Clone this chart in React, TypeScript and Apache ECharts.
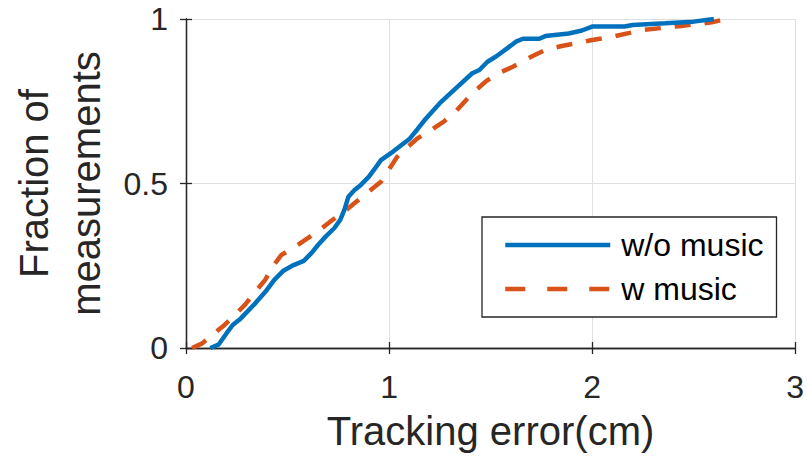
import React, { useEffect, useRef } from "react";
import * as echarts from "echarts";

const xTicks = [0, 1, 2, 3];
const yTicks = [0, 0.5, 1];
const seriesNames = ["w/o music", "w music"];

const withoutMusic: [number, number][] = [
  [0.12, 0], [0.16, 0.01], [0.2, 0.045], [0.23, 0.07], [0.27, 0.09], [0.34, 0.135],
  [0.39, 0.17], [0.435, 0.207], [0.48, 0.235], [0.53, 0.252], [0.58, 0.265], [0.62, 0.29],
  [0.65, 0.313], [0.69, 0.34], [0.73, 0.364], [0.76, 0.39], [0.78, 0.42], [0.8, 0.46],
  [0.83, 0.48], [0.86, 0.495], [0.9, 0.52], [0.93, 0.545], [0.96, 0.571], [1.02, 0.597],
  [1.1, 0.635], [1.14, 0.665], [1.18, 0.696], [1.25, 0.744], [1.33, 0.79], [1.41, 0.835],
  [1.445, 0.845], [1.485, 0.87], [1.527, 0.886], [1.58, 0.91], [1.625, 0.931], [1.66, 0.94],
  [1.74, 0.94], [1.77, 0.948], [1.885, 0.956], [1.95, 0.965], [2.0, 0.977], [2.16, 0.977],
  [2.2, 0.982], [2.36, 0.987], [2.5, 0.992], [2.6, 1.0],
];

const withMusic: [number, number][] = [
  [0.03, 0], [0.08, 0.014], [0.13, 0.04], [0.19, 0.07], [0.24, 0.1], [0.29, 0.131],
  [0.34, 0.17], [0.39, 0.207], [0.43, 0.25], [0.47, 0.283], [0.53, 0.305], [0.6, 0.334],
  [0.66, 0.36], [0.71, 0.384], [0.78, 0.415], [0.84, 0.445], [0.9, 0.475], [0.96, 0.505],
  [1.04, 0.581], [1.09, 0.61], [1.14, 0.637], [1.2, 0.66], [1.27, 0.688], [1.33, 0.72],
  [1.38, 0.754], [1.43, 0.785], [1.48, 0.812], [1.55, 0.838], [1.61, 0.855], [1.7, 0.885],
  [1.77, 0.906], [1.85, 0.918], [1.92, 0.926], [2.0, 0.936], [2.1, 0.946], [2.18, 0.957],
  [2.26, 0.967], [2.35, 0.973], [2.44, 0.979], [2.52, 0.985], [2.59, 0.99], [2.66, 1.0],
];

const FONT = "'Liberation Sans', Arial, Helvetica, sans-serif";
const AXIS_COLOR = "#262626";
const BLUE = "#0072BD";
const ORANGE = "#D95319";

export default function App() {
  const ref = useRef<HTMLDivElement>(null);
  useEffect(() => {
    if (!ref.current) return;
    const chart = echarts.init(ref.current, undefined, { renderer: "svg" });
    const frameAxis = {
      axisLine: { show: true, lineStyle: { color: AXIS_COLOR, width: 1.3 } },
      axisTick: { show: true, inside: true, length: 6, lineStyle: { color: AXIS_COLOR, width: 1.3 } },
    };
    const hiddenSymbol = { color: "rgba(0,0,0,0)", opacity: 0, borderWidth: 0 };
    chart.setOption({
      animation: false,
      backgroundColor: "#ffffff",
      grid: { left: 184, right: 9, top: 19, bottom: 115, containLabel: false },
      xAxis: [
        {
          type: "value",
          min: xTicks[0],
          max: xTicks[xTicks.length - 1],
          interval: 1,
          position: "bottom",
          ...frameAxis,
          axisLabel: { fontFamily: FONT, fontSize: 32, color: AXIS_COLOR, margin: 23, lineHeight: 32 },
          splitLine: { show: true, lineStyle: { color: "#dfdfdf", width: 1 } },
          name: "Tracking error(cm)",
          nameLocation: "middle",
          nameGap: 63,
          nameTextStyle: { fontFamily: FONT, fontSize: 40, color: AXIS_COLOR, lineHeight: 40 },
        },
        {
          type: "value",
          min: xTicks[0],
          max: xTicks[xTicks.length - 1],
          interval: 1,
          position: "top",
          ...frameAxis,
          axisLabel: { show: false },
          splitLine: { show: false },
        },
      ],
      yAxis: [
        {
          type: "value",
          min: yTicks[0],
          max: yTicks[yTicks.length - 1],
          interval: 0.5,
          position: "left",
          ...frameAxis,
          axisLabel: { fontFamily: FONT, fontSize: 32, color: AXIS_COLOR, margin: 18 },
          splitLine: { show: true, lineStyle: { color: "#dfdfdf", width: 1 } },
          name: "Fraction of\nmeasurements",
          nameLocation: "middle",
          nameRotate: 90,
          nameGap: 74,
          nameTextStyle: { fontFamily: FONT, fontSize: 40, color: AXIS_COLOR, lineHeight: 52 },
        },
        {
          type: "value",
          min: yTicks[0],
          max: yTicks[yTicks.length - 1],
          interval: 0.5,
          position: "right",
          ...frameAxis,
          axisLabel: { show: false },
          splitLine: { show: false },
        },
      ],
      legend: {
        orient: "vertical",
        left: 482,
        top: 217,
        padding: [12, 13, 12, 21],
        itemWidth: 105,
        itemHeight: 32,
        itemGap: 12,
        backgroundColor: "#ffffff",
        borderColor: AXIS_COLOR,
        borderWidth: 1.3,
        borderRadius: 0,
        textStyle: { fontFamily: FONT, fontSize: 32, color: "#000000", padding: [0, 0, 0, 6] },
        data: [
          {
            name: seriesNames[0],
            lineStyle: { color: BLUE, width: 4.5, type: "solid" },
            itemStyle: hiddenSymbol,
          },
          {
            name: seriesNames[1],
            lineStyle: { color: ORANGE, width: 4.5, type: [20, 22] },
            itemStyle: hiddenSymbol,
          },
        ],
      },
      series: [
        {
          name: seriesNames[0],
          type: "line",
          xAxisIndex: 0,
          yAxisIndex: 0,
          data: withoutMusic,
          symbol: "none",
          lineStyle: { color: BLUE, width: 4.5 },
          itemStyle: { color: BLUE },
          z: 3,
        },
        {
          name: seriesNames[1],
          type: "line",
          xAxisIndex: 0,
          yAxisIndex: 0,
          data: withMusic,
          symbol: "none",
          lineStyle: { color: ORANGE, width: 4.5, type: [16, 14] },
          itemStyle: { color: ORANGE },
          z: 2,
        },
      ],
    });
    return () => chart.dispose();
  }, []);
  return <div ref={ref} style={{ width: 807, height: 463, position: "absolute", left: 0, top: 0 }} />;
}
